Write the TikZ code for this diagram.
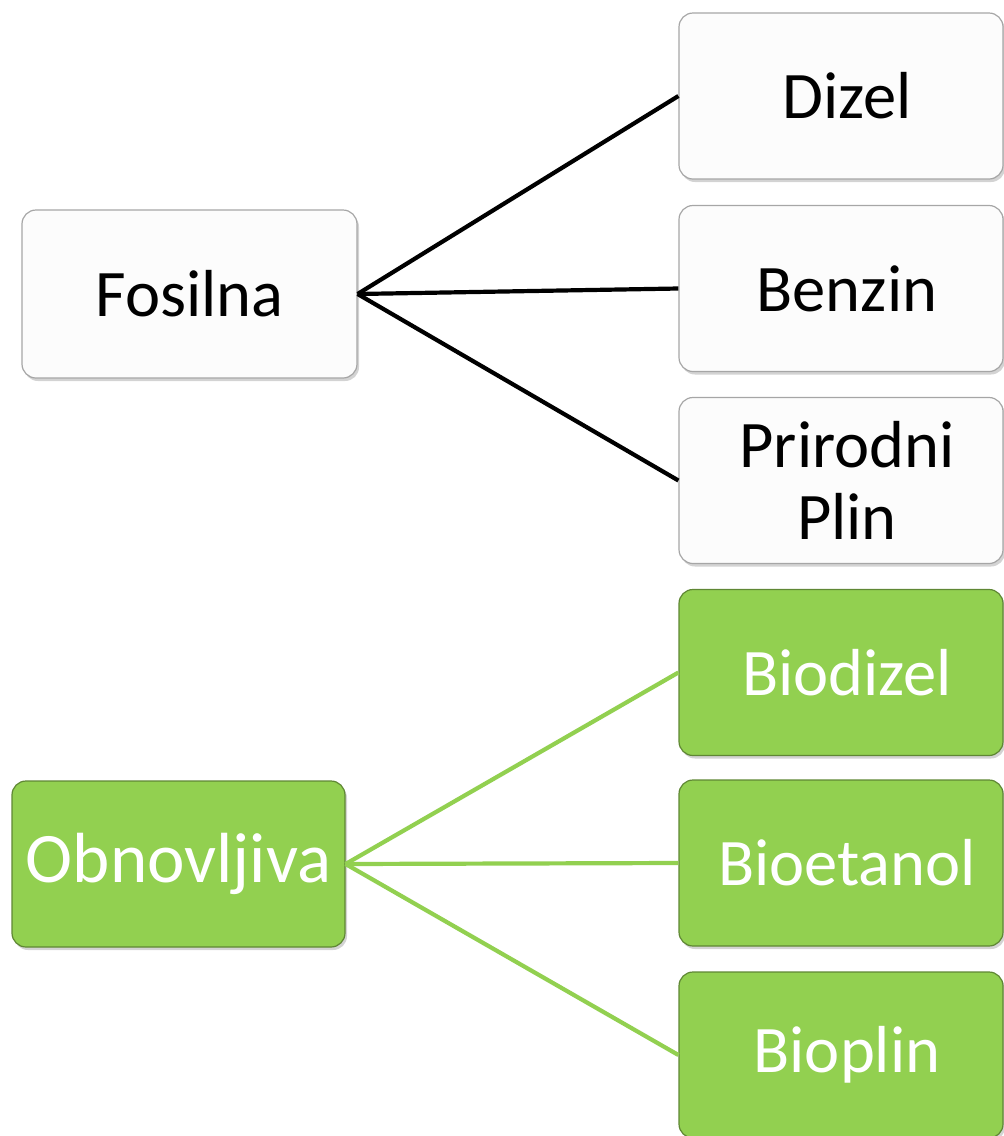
\documentclass[tikz,border=0pt]{standalone}
\usepackage{fontspec}
\setmainfont{Carlito}
\usetikzlibrary{shadows}
\definecolor{biogreen}{HTML}{92D050}
\definecolor{boxgray}{HTML}{A6A6A6}
\tikzset{
  box/.style={draw=boxgray, line width=1.2pt, fill=white!99!black, rounded corners=14pt,
    minimum width=324pt, minimum height=166pt, inner sep=0pt, align=center,
    font=\fontsize{66.5}{72}\selectfont,
    drop shadow={shadow xshift=2pt, shadow yshift=-3pt, opacity=0.35}},
  greenbox/.style={box, fill=biogreen, draw=biogreen!65!black, text=white},
  link/.style={line width=4.2pt}
}
\begin{document}
\begin{tikzpicture}[x=1pt, y=-1pt]
\useasboundingbox (0,0) rectangle (1004,1136);
% fosilna goriva
\node[box, minimum width=335pt, minimum height=168pt] (fos) at (189.5,294) {Fosilna};
\node[box] (diz) at (841,96) {\hspace*{12pt}Dizel};
\node[box] (ben) at (841,288.5) {\hspace*{12pt}Benzin};
\node[box] (plin) at (841,480.5) {\hspace*{12pt}Prirodni\\\hspace*{12pt}Plin};
\foreach \t in {diz,ben,plin}{
\draw[link, black] (fos.east) -- (\t.west);
}
% obnovljiva goriva
\node[greenbox, minimum width=333pt, font=\fontsize{71}{78}\selectfont] (obn) at (178.5,864) {Obnovljiva};
\node[greenbox] (bdiz) at (841,672.5) {\hspace*{12pt}Biodizel};
\node[greenbox] (beta) at (841,863) {\hspace*{12pt}Bioetanol};
\node[greenbox] (bplin) at (841,1055) {\hspace*{12pt}Bioplin};
\foreach \t in {bdiz,beta,bplin}{
\draw[link, biogreen] (obn.east) -- (\t.west);
}
\end{tikzpicture}
\end{document}
